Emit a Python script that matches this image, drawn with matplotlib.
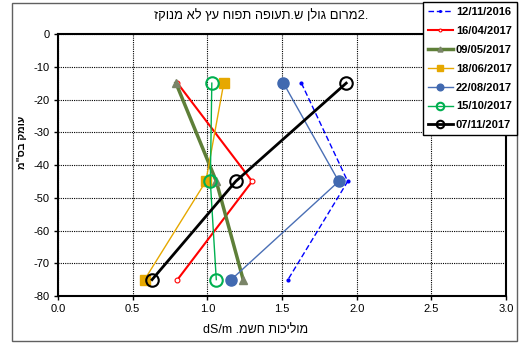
import matplotlib
matplotlib.use("Agg")
import matplotlib.pyplot as plt
from matplotlib.patches import Rectangle

plt.rcParams['font.family'] = ['Liberation Sans', 'DejaVu Sans']

depths = [-15, -45, -75]
dates = ["12/11/2016", "16/04/2017", "09/05/2017", "18/06/2017",
         "22/08/2017", "15/10/2017", "07/11/2017"]
ec_1211_2016 = [1.63, 1.94, 1.54]
ec_1604_2017 = [0.80, 1.30, 0.80]
ec_0905_2017 = [0.79, 1.06, 1.24]
ec_1806_2017 = [1.11, 0.99, 0.58]
ec_2208_2017 = [1.51, 1.88, 1.16]
ec_1510_2017 = [1.03, 1.02, 1.06]
ec_0711_2017 = [1.93, 1.19, 0.63]
xticks = [0.0, 0.5, 1.0, 1.5, 2.0, 2.5, 3.0]
yticks = [0, -10, -20, -30, -40, -50, -60, -70, -80]

title_txt = "מרום גולן ש.תעופה תפוח עץ לא מנוקז"[::-1] + "2."
ylabel_txt = "עומק בס\"מ"[::-1]
xlabel_txt = "dS/m ." + "מוליכות חשמ"[::-1]

fig = plt.figure(figsize=(5.2, 3.43), dpi=100)
ax = fig.add_axes([58/520, 1-296/343, (506-58)/520, (296-34)/343])

series = [
    (ec_1211_2016, dict(color='#0000FF', ls=(0, (4, 2)), lw=1.0, marker='.', ms=4)),
    (ec_1604_2017, dict(color='#FF0000', lw=1.5, marker='o', ms=3.5, mfc='white', mec='#FF0000', mew=0.8)),
    (ec_0905_2017, dict(color='#5E7F38', lw=2.5, marker='^', ms=6, mfc='#7A8468', mec='#7A8468')),
    (ec_1806_2017, dict(color='#E6A800', lw=1.0, marker='s', ms=7, mfc='#E6A800', mec='#E6A800')),
    (ec_2208_2017, dict(color='#4A6FB5', lw=1.0, marker='o', ms=8, mfc='#4169B0', mec='#4169B0')),
    (ec_1510_2017, dict(color='#00B050', lw=1.0, marker='o', ms=9, mfc='none', mec='#00B050', mew=1.5)),
    (ec_0711_2017, dict(color='#000000', lw=2.0, marker='o', ms=9, mfc='none', mec='#000000', mew=1.5)),
]
handles = []
for (vals, style), lab in zip(series, dates):
    h, = ax.plot(vals, depths, label=lab, **style)
    handles.append(h)

ax.set_xlim(0, 3)
ax.set_ylim(-80, 0)
ax.set_xticks(xticks)
ax.set_yticks(yticks)
ax.set_xticklabels([f"{v:.1f}" for v in xticks])
ax.set_yticklabels([str(v) for v in yticks])
ax.tick_params(labelsize=8, direction='out', length=3, width=1, colors='black', pad=3)
ax.grid(True, color='black', ls=(0, (1, 1)), lw=0.8)
ax.set_axisbelow(True)
for s in ax.spines.values():
    s.set_linewidth(1.5)
    s.set_color('black')

fig.text(261/520, 1-16/343, title_txt, ha='center', va='center', fontsize=9.3)
fig.text(22/520, 1-142/343, ylabel_txt, ha='center', va='center', rotation=90,
         fontsize=7.5, fontweight='bold')
fig.text(256/520, 1-330/343, xlabel_txt, ha='center', va='center', fontsize=9)

fig.patches.append(Rectangle((11.5/520, 1-341/343), (517-11.5)/520, (341-2.5)/343,
                             transform=fig.transFigure, fill=False, ec='#606060', lw=1))

leg = fig.legend(handles=handles, loc='upper right', bbox_to_anchor=(517/520, 1-2/343),
                 prop={'size': 8, 'weight': 'bold'}, frameon=True, fancybox=False,
                 edgecolor='black', framealpha=1, handlelength=2.2, handletextpad=0.3,
                 labelspacing=0.8, borderpad=0.45, borderaxespad=0, markerscale=0.6)
leg.get_frame().set_linewidth(1.0)

fig.savefig("out.png", dpi=100)
